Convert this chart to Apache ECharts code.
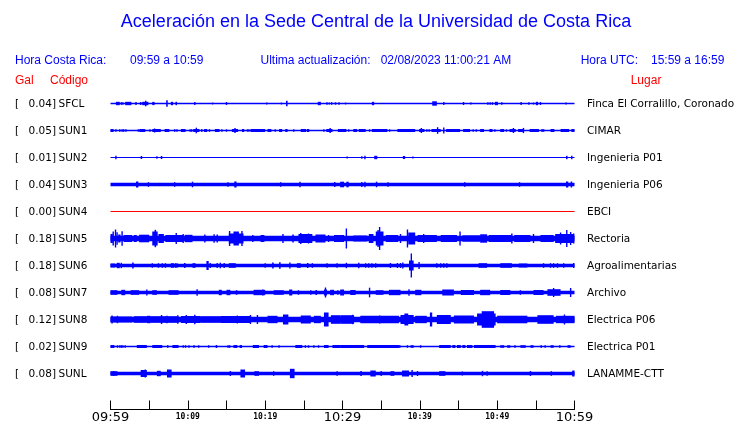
<!DOCTYPE html>
<html><head><meta charset="utf-8">
<script src="https://cdn.jsdelivr.net/npm/echarts@6/dist/echarts.min.js"></script>
<style>html,body{margin:0;padding:0;background:#fff}#c{width:740px;height:423px}</style>
</head><body><div id="c"></div>
<script>
// ---------- texts ----------
const titleText = 'Aceleración en la Sede Central de la Universidad de Costa Rica';
const headerTexts = ['Hora Costa Rica:', '09:59 a 10:59', 'Ultima actualización:', '02/08/2023 11:00:21 AM', 'Hora UTC:', '15:59 a 16:59'];
const columnHeads = ['Gal', 'Código', 'Lugar'];

// ---------- stations ----------
const stations = ['SFCL', 'SUN1', 'SUN2', 'SUN3', 'SUN4', 'SUN5', 'SUN6', 'SUN7', 'SUN8', 'SUN9', 'SUNL'];
const galValues = ['0.04', '0.05', '0.01', '0.04', '0.00', '0.18', '0.18', '0.08', '0.12', '0.02', '0.08'];
const places = ['Finca El Corralillo, Coronado', 'CIMAR', 'Ingenieria P01', 'Ingenieria P06', 'EBCI', 'Rectoria',
  'Agroalimentarias', 'Archivo', 'Electrica P06', 'Electrica P01', 'LANAMME-CTT'];

// ---------- time axis (minutes after 09:59) ----------
const tickMinutes = [0, 10, 20, 30, 40, 50, 60];
const tickTexts = ['09:59', '10:09', '10:19', '10:29', '10:39', '10:49', '10:59'];
const majorTickMinutes = [0, 30, 60];

// ---------- trace amplitudes (half height of the trace band, relative units) ----------
const baseAmp = [0.75, 0.75, 0.6, 1.7, 0.5, 2.7, 1.7, 1.8, 2.8, 0.7, 1.8];
// bursts: [start minute, end minute, half amplitude]
const evSFCL = [[0.7,1.2,1.7],[1.4,1.4,1.3],[1.6,1.6,1.3],[1.9,2.7,1.7],[3.3,3.3,1.5],[3.8,4.0,1.5],[4.1,4.9,1.7],[4.5,4.6,2.8],[5.4,5.7,1.6],[7.2,7.4,3.2],[7.8,8.1,1.7],[8.4,8.6,1.7],[10.9,10.9,1.4],[13.2,13.2,0.9],[15.0,15.0,1.5],[20.2,20.2,1.0],[22.1,22.1,0.9],[22.7,22.9,2.7],[26.8,27.2,1.7],[28.0,28.0,1.2],[28.3,28.3,1.0],[28.6,28.6,1.3],[29.0,29.2,1.2],[29.5,29.6,1.3],[30.4,30.4,0.9],[33.8,34.1,1.7],[41.6,42.2,2.2],[43.1,43.1,1.5],[45.6,45.7,1.5],[46.6,46.6,1.0],[48.8,48.8,1.3],[49.1,49.1,1.3],[49.4,49.4,1.3],[49.7,50.1,1.7],[50.6,50.6,1.2],[53.1,53.1,1.4],[54.1,54.1,1.2],[54.7,54.7,1.0],[55.0,55.3,1.7],[55.6,55.6,1.5],[58.9,58.9,0.9]];
const evSUN1 = [[0.0,0.4,1.5],[0.7,0.7,1.3],[1.2,1.2,1.3],[1.5,1.5,1.3],[1.7,1.7,1.3],[2.0,2.0,1.2],[3.5,3.8,1.2],[3.8,4.5,1.5],[5.1,5.1,1.2],[5.4,6.5,1.5],[5.7,5.7,2.0],[7.0,7.6,1.5],[8.3,8.3,1.3],[8.6,8.6,1.3],[9.1,9.7,1.5],[10.3,10.3,1.3],[10.5,10.5,1.3],[10.7,11.5,1.5],[11.1,11.1,2.8],[11.7,11.9,1.3],[12.1,12.5,1.5],[12.8,12.8,1.3],[13.5,14.1,1.5],[14.4,14.4,1.2],[15.0,15.0,1.2],[15.7,16.5,1.5],[16.1,16.1,2.5],[17.0,17.3,1.5],[17.7,17.7,1.2],[17.9,17.9,1.2],[18.1,20.0,1.5],[20.3,20.8,1.5],[21.3,21.3,1.2],[21.8,22.2,1.5],[22.6,22.9,1.5],[23.7,23.7,1.2],[24.6,25.3,1.5],[25.4,25.7,1.5],[27.6,27.6,1.2],[27.9,28.7,1.5],[28.4,28.4,2.5],[29.4,30.5,1.5],[30.8,30.8,1.2],[31.4,31.9,1.5],[32.1,33.0,1.5],[33.5,33.5,1.2],[33.8,35.8,1.5],[36.1,36.1,1.2],[37.1,39.4,1.5],[39.9,40.6,1.5],[40.2,40.2,2.5],[40.9,40.9,1.2],[41.2,41.2,1.2],[41.5,42.7,1.5],[42.3,42.3,3.3],[43.1,43.1,3.0],[43.4,45.2,1.5],[45.6,46.5,1.5],[46.9,46.9,1.2],[47.3,47.3,1.2],[47.8,48.3,1.5],[49.0,49.4,1.5],[49.7,49.7,1.2],[50.4,50.9,1.5],[51.2,51.2,1.2],[51.6,52.4,1.5],[52.1,52.1,2.5],[52.7,53.4,1.5],[53.4,53.4,2.6],[54.2,55.4,1.5],[55.7,56.1,1.3],[56.9,57.4,1.5],[58.2,59.3,1.5],[59.6,60.0,1.5]];
const evSUN2 = [[0.7,0.7,1.8],[3.9,4.1,1.5],[6.0,6.0,1.3],[6.5,6.7,1.5],[30.6,30.6,1.0],[32.5,32.5,1.3],[32.9,32.9,1.7],[34.1,34.5,1.7],[37.8,38.1,1.5],[39.1,39.1,1.0],[58.9,59.1,1.7],[59.6,59.7,1.7]];
const evSUN3 = [[3.3,3.6,3.0],[4.9,4.9,2.3],[8.3,8.3,2.3],[10.6,10.6,2.8],[15.2,15.2,2.3],[16.0,16.3,3.0],[22.0,22.0,2.3],[24.5,24.5,2.8],[29.0,29.0,2.5],[29.7,30.2,2.8],[30.5,30.8,2.8],[32.5,32.5,2.5],[32.9,32.9,2.8],[34.4,34.4,2.8],[35.9,35.9,2.3],[45.8,45.8,2.3],[52.9,52.9,2.3],[58.9,59.2,3.0],[59.5,59.7,3.0]];
const evSUN4 = [];
const evSUN5 = [[0,0.3,4.5],[0.3,0.4,7],[0.6,0.7,9],[0.8,0.9,6.3],[1.0,1.3,4],[1.5,1.5,7.3],[1.7,2.8,3.5],[3.0,3.4,3.5],[3.7,5.0,3.8],[5.4,6.1,7],[5.7,5.9,8.7],[6.2,6.9,4.5],[7.1,9.4,3.5],[8.5,8.5,5.5],[9.4,9.4,4.5],[9.6,10.6,3.7],[12.2,12.2,4],[13.4,13.4,4.2],[13.8,13.8,4],[15.3,17.2,5],[15.4,15.4,7.5],[15.9,16.6,7],[17.0,17.0,7.5],[18.4,18.4,3.5],[19.4,19.9,3.5],[22.3,22.3,4.5],[23.5,23.7,4],[24.3,26.1,4.5],[24.6,24.6,5.5],[25.6,25.6,5],[26.5,27.8,4],[28.2,28.2,3.5],[28.9,29.7,3.5],[29.7,30.2,3.5],[30.5,30.5,10],[31.4,33.2,3],[33.4,34.0,4.5],[34.3,35.3,7],[34.6,34.6,8.5],[34.8,34.8,11.5],[35.6,37.2,3.5],[37.5,37.5,4.5],[38.4,38.4,9],[38.5,39.4,6],[39.7,42.2,3.5],[40.5,40.5,4.5],[42.7,44.8,3.5],[45.2,45.2,7],[45.5,47.8,3.2],[47.8,48.7,4.2],[48.9,51.9,3.5],[51.9,51.9,5],[52.2,54.3,3.5],[54.7,54.7,4.5],[55.6,57.3,3.5],[57.5,59.9,4.5],[58.2,58.2,6],[59.0,59.0,8.5],[59.5,59.5,6.5],[59.9,59.9,5]];
const evSUN6 = [[0,0.6,2],[0.8,1.2,2.7],[1.4,1.4,2.7],[2.8,3.0,3],[5.4,5.4,2.3],[6.2,6.2,2.3],[6.7,6.7,2.3],[7.1,7.1,2.3],[7.8,8.2,2.3],[8.4,8.4,2.3],[8.6,8.6,2.3],[9.5,9.7,2.5],[10.6,11.0,2.3],[12.4,12.7,4.5],[12.9,12.9,2.5],[13.8,13.8,2.5],[14.2,14.2,2.8],[14.7,14.7,2.5],[15.3,16.2,2.3],[20.0,20.0,2.3],[20.9,21.1,3.0],[21.8,22.0,3.3],[23.2,23.2,3.0],[24.1,24.6,2.3],[25.4,25.6,2.5],[26.1,26.1,2.3],[28.0,28.0,2.3],[29.3,29.3,2.3],[30.5,30.5,2.7],[32.1,32.1,2.7],[33.0,33.0,2.3],[33.4,33.4,2.3],[33.8,33.8,2.3],[34.3,34.3,2.3],[36.2,36.2,2.5],[37.1,37.1,2.5],[37.5,37.5,2.5],[37.8,37.8,3],[38.6,39.2,5],[38.9,38.9,12],[39.9,39.9,3.5],[42.2,42.2,2.3],[42.7,42.7,2.3],[43.1,43.1,2.3],[43.5,43.5,2.3],[47.6,48.7,2.3],[50.4,51.9,2.3],[52.8,53.9,2.0],[56.0,56.0,2.3],[56.9,56.9,2.3],[57.3,57.3,2.3],[57.8,57.8,2.3],[58.6,58.6,2.3],[59.9,59.9,2.5]];
const evSUN7 = [[0,0.9,2.3],[1.4,1.9,2.7],[2.6,3.7,2.3],[4.7,4.7,3],[5.4,6.0,2.3],[7.5,8.8,2.3],[11.2,11.2,3.2],[14.0,14.4,2.7],[15.0,15.5,2.7],[16.2,16.4,2.3],[18.5,20.0,2.7],[19.7,19.7,3],[21.1,22.4,2.3],[23.1,23.5,3],[24.3,24.3,2.3],[25.9,25.9,2.3],[26.5,26.7,2.5],[27.6,28.0,3.0],[27.8,27.8,5],[28.4,28.9,2.7],[29.4,29.4,2.3],[29.7,30.2,3],[31.0,31.7,2.5],[33.5,33.5,4.8],[34.3,35.3,2.3],[36.0,37.5,2.7],[38.6,38.6,3.3],[39.4,40.2,2.7],[42.9,44.4,3],[45.3,47.0,2.5],[47.8,49.1,2.7],[50.4,51.7,2.5],[53.0,53.0,2.3],[54.7,56.0,2.5],[56.5,58.2,3.3],[57.3,57.3,4.5],[59.5,59.5,4.5]];
const evSUN8 = [[0,2.8,3.0],[0.2,0.2,4],[0.9,0.9,3.7],[3.0,4.7,3.3],[4.7,5.2,3.7],[5.2,8.8,3.3],[6.6,6.6,4.5],[7.3,7.3,3.7],[8.7,8.7,4.2],[9.1,11.6,3.5],[9.8,9.8,4.5],[10.9,10.9,4.7],[11.6,14.2,3.3],[14.2,18.1,3.5],[16.4,16.4,4],[18.1,18.1,4.5],[19.0,19.0,4.5],[20.3,21.6,3.7],[22.3,23.0,5],[24.6,25.9,4],[26.3,27.2,3.7],[27.6,28.2,7],[28.5,29.7,4.3],[29.7,31.5,4.3],[31.3,31.3,4.7],[32.3,37.3,3.7],[34.8,34.8,4],[37.5,39.2,4.5],[38.0,38.5,6],[39.4,40.9,3.7],[41.3,41.6,7],[42.2,44.0,4.5],[44.4,47.0,4],[47.4,49.8,6],[48.0,49.6,8.3],[50.0,53.9,3.8],[55.2,57.3,4.3],[57.6,60,3.7],[58.7,58.7,5]];
const evSUN9 = [[0,0.5,1.5],[0.9,0.9,1.3],[1.2,1.2,1.3],[1.4,1.4,1.3],[1.6,1.6,1.3],[1.9,1.9,1.3],[3.4,4.7,1.5],[5.4,6.7,1.5],[7.3,7.5,1.3],[8.0,8.8,1.5],[9.4,9.4,1.3],[9.7,9.7,1.3],[10.1,10.2,1.3],[10.7,10.9,1.3],[11.4,11.4,1.3],[12.7,12.7,1.2],[13.6,13.8,1.5],[15.2,15.2,1.3],[15.4,15.4,1.3],[15.9,16.4,1.5],[16.7,17.0,1.5],[18.4,19.2,1.5],[19.8,20.3,1.5],[20.8,21.0,1.3],[21.8,21.8,1.3],[23.9,24.8,1.5],[25.2,25.2,1.3],[25.6,25.6,1.3],[26.3,26.3,1.3],[26.9,26.9,1.3],[27.6,28.2,1.5],[28.7,29.7,1.5],[29.7,32.8,1.5],[33.2,37.3,1.5],[37.3,37.5,1.3],[38.4,38.4,1.3],[38.8,39.2,1.3],[40.1,40.1,1.3],[42.5,44.0,1.5],[44.2,44.6,1.5],[44.8,45.3,1.5],[45.5,45.9,1.5],[46.1,46.8,1.5],[47.0,49.8,1.5],[50.4,50.9,1.3],[51.3,51.7,1.3],[52.2,52.4,1.3],[53.0,53.7,1.3],[54.3,54.7,1.3],[55.6,55.8,1.3],[56.2,56.2,1.3],[56.9,57.3,1.3],[58.0,58.2,1.3],[59.1,59.5,1.3]];
const evSUNL = [[0,0.9,2.3],[0.4,0.4,2.5],[3.9,4.7,3.5],[4.5,4.5,4],[6.0,6.5,2.7],[7.3,7.9,4],[15.5,15.5,2.5],[16.8,17.4,4],[18.6,19.2,2.3],[21.1,21.1,2.3],[23.2,23.8,4.7],[29.3,29.3,2.3],[32.3,32.5,2.5],[33.6,34.3,3],[35.0,35.0,2.5],[36.2,36.7,2.3],[37.7,38.6,3],[39.0,39.0,3.5],[39.7,39.7,2.5],[42.5,43.3,2.3],[45.5,45.5,2.0],[48.1,48.1,2.7],[48.7,48.7,2.2],[54.3,54.3,2.5],[57.0,57.0,2.3],[59.7,60.0,3.0]];
const stationEvents = [evSFCL, evSUN1, evSUN2, evSUN3, evSUN4, evSUN5, evSUN6, evSUN7, evSUN8, evSUN9, evSUNL];

// ---------- build ----------
const ROW = 27;           // axis units between traces
const BLUE = '#0000ff', RED = '#ff0000';
const traceData = [];
stations.forEach((s, k) => {
  traceData.push([k, 0, 60, baseAmp[k]]);
  stationEvents[k].forEach(e => traceData.push([k, e[0], e[1], e[2]]));
});

const chart = echarts.init(document.getElementById('c'), null, {renderer: 'canvas'});
const txt = (text, x, y, fill, size, family, align) => ({
  type: 'text', x: x, y: y, silent: true,
  style: {text: text, fill: fill, fontSize: size, fontFamily: family,
    align: align || 'left', textAlign: align || 'left', verticalAlign: 'middle', textVerticalAlign: 'middle'}
});

chart.setOption({
  animation: false,
  backgroundColor: '#fff',
  grid: {left: 110.5, right: 165.5, top: 76.5, bottom: 13.5, containLabel: false, outerBoundsMode: 'none'},
  xAxis: {
    type: 'value', min: 0, max: 60, interval: 5, position: 'bottom',
    axisLine: {show: true, onZero: false, lineStyle: {color: '#000', width: 1}},
    axisTick: {show: true, inside: true, length: 9, lineStyle: {color: '#000', width: 1}},
    splitLine: {show: false},
    axisLabel: {
      margin: 2, showMinLabel: true, showMaxLabel: true,
      formatter: v => {
        const i = tickMinutes.indexOf(v);
        if (i < 0) return '';
        return (majorTickMinutes.indexOf(v) >= 0 ? '{big|' : '{small|') + tickTexts[i] + '}';
      },
      rich: {
        big: {fontSize: 13, fontFamily: 'DejaVu Sans', color: '#000'},
        small: {fontSize: 8, fontFamily: 'DejaVu Sans Mono', fontWeight: 'bold', color: '#000', padding: [1, 0, 0, 0]}
      }
    }
  },
  yAxis: {type: 'value', inverse: true, min: -ROW, max: 306, show: false, splitLine: {show: false}},
  graphic: [
    txt(titleText, 376, 22, BLUE, 18, 'Liberation Sans', 'center'),
    txt(headerTexts[0], 15, 60.5, BLUE, 12, 'Liberation Sans'),
    txt(headerTexts[1], 130, 60.5, BLUE, 12, 'Liberation Sans'),
    txt(headerTexts[2], 260.5, 60.5, BLUE, 12, 'Liberation Sans'),
    txt(headerTexts[3], 380.7, 60.5, BLUE, 12, 'Liberation Sans'),
    txt(headerTexts[4], 580.7, 60.5, BLUE, 12, 'Liberation Sans'),
    txt(headerTexts[5], 651, 60.5, BLUE, 12, 'Liberation Sans'),
    txt(columnHeads[0], 15, 80.5, RED, 12, 'Liberation Sans'),
    txt(columnHeads[1], 50, 80.5, RED, 12, 'Liberation Sans'),
    txt(columnHeads[2], 630.7, 80.5, RED, 12, 'Liberation Sans')
  ],
  series: [
    {
      type: 'custom', clip: false, silent: true,
      data: traceData,
      encode: {x: [1, 2], y: 0},
      renderItem: (params, api) => {
        const k = api.value(0), t0 = api.value(1), t1 = api.value(2), a = api.value(3);
        const yc = k * ROW;
        const p0 = api.coord([t0, yc - a]);
        const p1 = api.coord([t1, yc + a]);
        let x = p0[0], w = p1[0] - p0[0];
        const minW = 1.4;
        if (w < minW) { x -= (minW - w) / 2; w = minW; }
        const y = Math.min(p0[1], p1[1]), h = Math.abs(p1[1] - p0[1]);
        return {type: 'rect', shape: {x: x, y: y, width: w, height: h},
          style: {fill: k === 4 ? RED : BLUE}};
      }
    },
    {
      type: 'custom', clip: false, silent: true,
      data: stations.map((s, k) => [k]),
      encode: {y: 0},
      renderItem: (params, api) => {
        const k = api.value(0);
        const y = api.coord([0, k * ROW])[1] + 1;
        const f = 'DejaVu Sans', fs = 10.5;
        return {type: 'group', children: [
          txt('[', 15, y, '#000', fs, f),
          txt(galValues[k] + ']', 56, y, '#000', fs, f, 'right'),
          txt(stations[k], 58.5, y, '#000', fs, f),
          txt(places[k], 587, y, '#000', fs, f)
        ]};
      }
    }
  ]
});
</script></body></html>
